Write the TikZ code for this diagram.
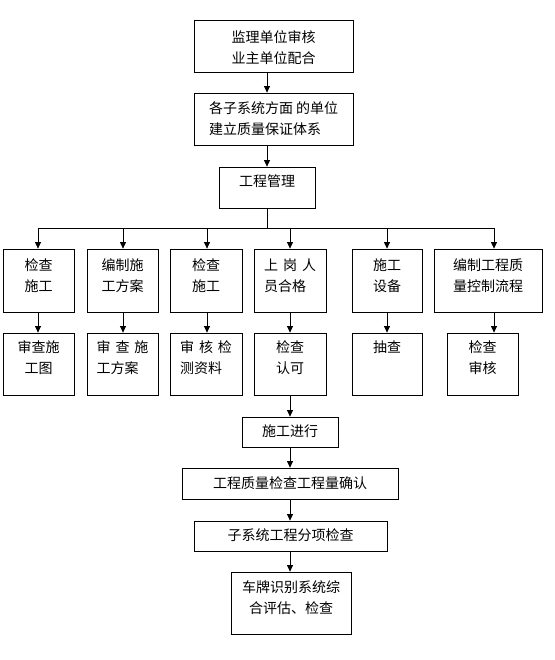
\documentclass[tikz,border=0pt]{standalone}
\usepackage{fontspec}
\setmainfont{Noto Sans CJK SC}
\usetikzlibrary{arrows.meta}
\newcommand\mybox[5]{\node[box, minimum width={(#4-#2)*1pt}, minimum height={(#5-#3)*1pt}] (#1) at ({(#2+#4)/2},{(#3+#5)/2}) {};}
\newcommand\mytext[4]{\node[txt,#4] (#1t) at ([yshift=-#2pt]#1.north) {#3};}
\begin{document}
\begin{tikzpicture}[x=1pt,y=-1pt,
  box/.style={draw, line width=0.8pt, inner sep=0pt},
  txt/.style={font=\fontsize{14}{20.5}\selectfont, align=center, inner sep=0pt, anchor=north},
  arr/.style={-{Triangle[length=6.5pt,width=6pt]}, line width=0.8pt},
  conn/.style={line width=0.8pt}]
\useasboundingbox (0,0) rectangle (554,660);
% top chain
\mybox{b1}{194}{20}{353}{72}
\mytext{b1}{11}{监理单位审核\\业主单位配合}{}
\mybox{b2}{194}{93}{353}{145}
\mytext{b2}{9}{各子系统方面\hspace{3pt}的单位\\建立质量保证体系}{align=left}
\mybox{b3}{219}{167}{315}{208}
\mytext{b3}{8}{工程管理}{}
% row 1
\mybox{A1}{3}{249}{74}{312}
\mytext{A1}{10}{检查\\施工}{}
\mybox{B1}{87}{249}{158}{312}
\mytext{B1}{10}{编制施\\工方案}{}
\mybox{C1}{170}{249}{242}{312}
\mytext{C1}{10}{检查\\施工}{}
\mybox{D1}{254}{249}{326}{312}
\mytext{D1}{10}{上\hspace{5pt}岗\hspace{5pt}人\\员合格}{align=left}
\mybox{E1}{352}{249}{422}{312}
\mytext{E1}{10}{施工\\设备}{}
\mybox{F1}{434}{249}{542}{312}
\mytext{F1}{10}{编制工程质\\量控制流程}{}
% row 2
\mybox{A2}{3}{333}{74}{395}
\mytext{A2}{8}{审查施\\工图}{}
\mybox{B2}{87}{333}{158}{395}
\mytext{B2}{8}{审\hspace{5pt}查\hspace{5pt}施\\工方案}{align=left}
\mybox{C2}{170}{333}{242}{395}
\mytext{C2}{8}{审\hspace{5pt}核\hspace{5pt}检\\测资料}{align=left}
\mybox{D2}{254}{333}{326}{395}
\mytext{D2}{8}{检查\\认可}{}
\mybox{E2}{352}{333}{422}{395}
\mytext{E2}{8}{抽查}{}
\mybox{F2}{447}{333}{518}{395}
\mytext{F2}{8}{检查\\审核}{}
% bottom chain
\mybox{s1}{242}{417}{338}{447}
\mytext{s1}{8}{施工进行}{}
\mybox{s2}{182}{468}{398}{499}
\mytext{s2}{8.5}{工程质量检查工程量确认}{}
\mybox{s3}{194}{521}{387}{551}
\mytext{s3}{8}{子系统工程分项检查}{}
\mybox{s4}{231}{572}{351}{634}
\mytext{s4}{9}{车牌识别系统综\\合评估、检查}{}
% junction coordinates
\coordinate (cA) at (38,228);
\coordinate (cB) at (123,228);
\coordinate (cC) at (207,228);
\coordinate (cD) at (290,228);
\coordinate (cE) at (387,228);
\coordinate (cF) at (494,228);
% connectors
\draw[arr] (b1.south -| b3.center) -- (b2.north -| b3.center);
\draw[arr] (b2.south -| b3.center) -- (b3.north);
\draw[conn] (b3.south) -- (b3.south |- cA);
\draw[conn] (cA) -- (cF);
\foreach \c/\r/\s in {cA/A1/A2, cB/B1/B2, cC/C1/C2, cD/D1/D2, cE/E1/E2, cF/F1/F2}{
  \draw[arr] (\c) -- (\c |- \r.north);
  \draw[arr] (\r.south -| \c) -- (\s.north -| \c);
}
\draw[arr] (D2.south) -- (s1.north);
\draw[arr] (s1.south) -- (s1.south |- s2.north);
\draw[arr] (s2.south -| s1.south) -- (s1.south |- s3.north);
\draw[arr] (s3.south -| s1.south) -- (s1.south |- s4.north);
\end{tikzpicture}
\end{document}
